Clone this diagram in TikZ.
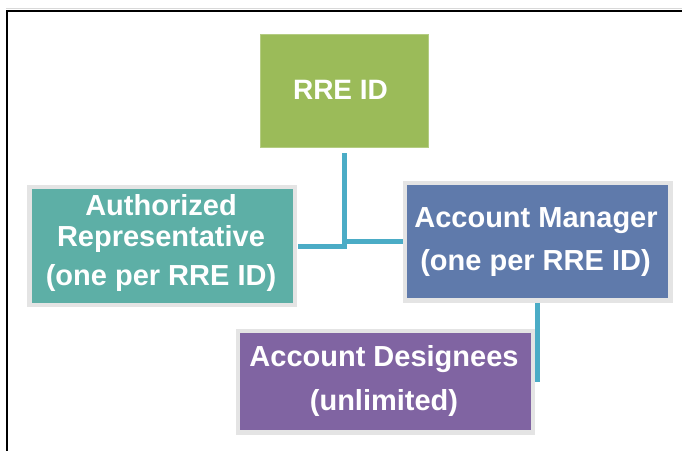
\documentclass[tikz,border=0pt]{standalone}
\usepackage{fontspec}
\setmainfont{Liberation Sans}
\begin{document}
\begin{tikzpicture}[x=1pt,y=-1pt,
  box/.style={draw=boxgray, line width=4.5pt, minimum width=#1, inner sep=0pt, outer sep=0pt},
  conn/.style={draw=connblue, line width=5pt},
  lbl/.style={text=white, font=\fontsize{29}{34}\selectfont\bfseries, anchor=base, inner sep=0pt}]
\definecolor{boxgray}{HTML}{E4E4E4}
\definecolor{rregreen}{HTML}{9BBB59}
\definecolor{authteal}{HTML}{5DAFA6}
\definecolor{amblue}{HTML}{5F7AAB}
\definecolor{adpurple}{HTML}{8064A2}
\definecolor{connblue}{HTML}{4BACC6}
\useasboundingbox (0,0) rectangle (682,450);
\fill[white] (0,0) rectangle (682,450);
% frame
\draw[line width=1.2pt, draw=black!15] (6,8.5) -- (690,8.5);
\draw[line width=2.2pt] (7,460) -- (7,11) -- (690,11);
% boxes
\node[draw=rregreen!75!white, line width=0.8pt, fill=rregreen, minimum width=168pt, minimum height=113pt, inner sep=0pt] (rre) at (344,90.5) {};
\node[box=265.5pt, fill=authteal, minimum height=118pt] (auth) at (162.25,246) {};
\node[box=265.5pt, fill=amblue, minimum height=117.5pt] (am) at (537.75,241.75) {};
\node[box=295pt, fill=adpurple, minimum height=101.5pt] (ad) at (385.5,381.75) {};
% connectors
\draw[conn] ([yshift=-6pt]rre.south) -- (rre.south |- auth.east) -- ([xshift=2.5pt]auth.east);
\draw[conn] (rre.south |- am.west) -- ([xshift=-2.5pt]am.west);
\coordinate (amend) at (537.75,382);
\draw[conn] ([yshift=-2.5pt]am.south) -- (amend);
% labels
\node[lbl, font=\fontsize{28}{34}\selectfont\bfseries] (t0) at (340.5,99) {RRE ID};
\node[lbl] (t1) at (161,215) {Authorized};
\node[lbl] (t2) at (161,246) {Representative};
\node[lbl] (t3) at (161,285) {(one per RRE ID)};
\node[lbl] (t4) at (536,227) {Account Manager};
\node[lbl] (t5) at (535.5,270) {(one per RRE ID)};
\node[lbl] (t6) at (384,366) {Account Designees};
\node[lbl] (t7) at (384,410) {(unlimited)};
\end{tikzpicture}
\end{document}
